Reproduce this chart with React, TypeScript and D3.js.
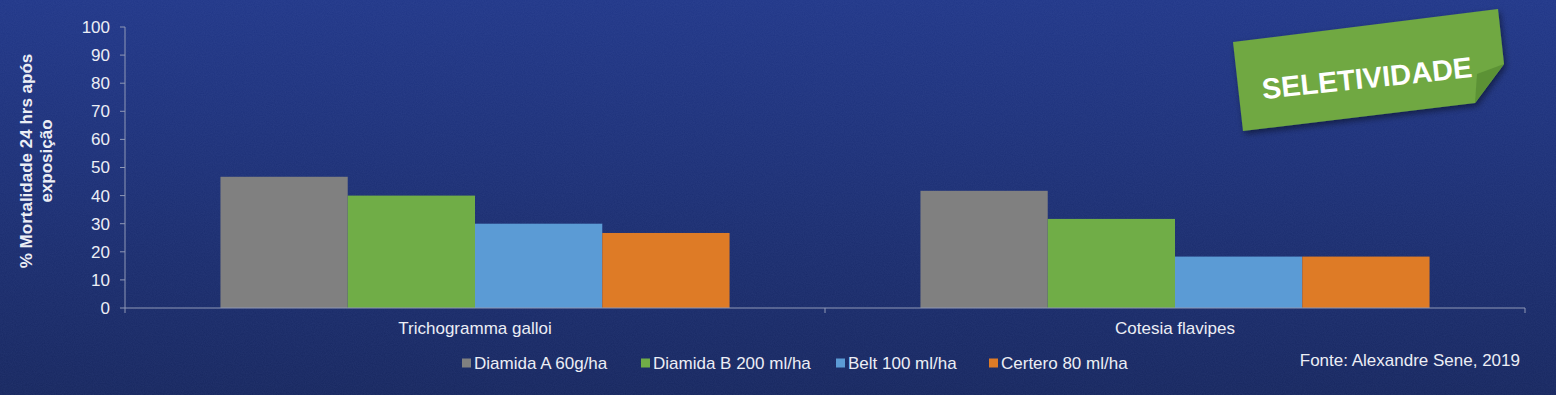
import * as d3 from "d3";

const W = 1556;
const H = 395;
const margin = { top: 27, right: 31, bottom: 87, left: 125 };

const categories = ["Trichogramma galloi", "Cotesia flavipes"];
const seriesNames = [
  "Diamida A 60g/ha",
  "Diamida B 200 ml/ha",
  "Belt 100 ml/ha",
  "Certero 80 ml/ha",
];
const seriesColors = ["#808080", "#70ad47", "#5b9bd5", "#de7b26"];
const valuesTrichogramma = [46.7, 40, 30, 26.7];
const valuesCotesia = [41.7, 31.7, 18.3, 18.3];
const yTicks = [0, 10, 20, 30, 40, 50, 60, 70, 80, 90, 100];
const legendX = [462, 641, 836, 989];

const values = [valuesTrichogramma, valuesCotesia];

const App = () => {
  const iw = W - margin.left - margin.right;
  const ih = H - margin.top - margin.bottom;

  const x0 = d3.scaleBand().domain(categories).range([0, iw]).paddingInner(0).paddingOuter(0);
  // Excel gap width 150%: bars take 4/(4+1.5) of each band
  const groupW = (x0.bandwidth() * 4) / 5.5;
  const x1 = d3
    .scaleBand()
    .domain(seriesNames)
    .range([(x0.bandwidth() - groupW) / 2, (x0.bandwidth() + groupW) / 2]);
  const y = d3.scaleLinear().domain([0, 100]).range([ih, 0]);

  const axisColor = "#8f98b6";
  const textColor = "#eceef5";
  const font = "'Liberation Sans', Arial, sans-serif";

  return (
    <svg width={W} height={H} style={{ position: "absolute", left: 0, top: 0 }} fontFamily={font}>
      <defs>
        <linearGradient id="bg" x1="0" y1="0" x2="0" y2="1">
          <stop offset="0" stopColor="#213788" />
          <stop offset="1" stopColor="#17275f" />
        </linearGradient>
        <filter id="noise" x="0" y="0" width="100%" height="100%">
          <feTurbulence type="fractalNoise" baseFrequency="0.9" numOctaves="2" seed="3" />
          <feColorMatrix type="matrix" values="0 0 0 0 0.35  0 0 0 0 0.45  0 0 0 0 0.9  0 0 0 0.08 0" />
        </filter>
        <filter id="shadow" x="-10%" y="-20%" width="130%" height="150%">
          <feDropShadow dx="2" dy="3" stdDeviation="3" floodColor="#000" floodOpacity="0.45" />
        </filter>
      </defs>
      <rect width={W} height={H} fill="url(#bg)" />
      <rect width={W} height={H} filter="url(#noise)" />

      <g transform={`translate(${margin.left},${margin.top})`}>
        {categories.map((c, ci) => (
          <g key={c} transform={`translate(${x0(c)},0)`}>
            {seriesNames.map((s, si) => (
              <rect
                key={s}
                x={x1(s)}
                y={y(values[ci][si])}
                width={x1.bandwidth()}
                height={ih - y(values[ci][si])}
                fill={seriesColors[si]}
              />
            ))}
            <text
              x={x0.bandwidth() / 2}
              y={ih + 20}
              dy="0.35em"
              textAnchor="middle"
              fontSize={17}
              fill={textColor}
            >
              {c}
            </text>
          </g>
        ))}

        {/* y axis */}
        <line x1={0} x2={0} y1={0} y2={ih} stroke={axisColor} strokeWidth={1} />
        {yTicks.map((t) => (
          <g key={t} transform={`translate(0,${y(t)})`}>
            <line x1={-5} x2={0} stroke={axisColor} />
            <text x={-15} dy="0.35em" textAnchor="end" fontSize={17} fill={textColor}>
              {t}
            </text>
          </g>
        ))}

        {/* x axis */}
        <line x1={0} x2={iw} y1={ih} y2={ih} stroke={axisColor} />
        {[0, x0.bandwidth(), iw].map((v, i) => (
          <line key={i} x1={v} x2={v} y1={ih} y2={ih + 5} stroke={axisColor} />
        ))}
      </g>

      {/* y title */}
      <text
        transform={`translate(32,${margin.top + 134}) rotate(-90)`}
        textAnchor="middle"
        fontSize={17}
        fontWeight="bold"
        fill={textColor}
      >
        <tspan x={0} dy={0}>% Mortalidade 24 hrs após</tspan>
        <tspan x={0} dy={20}>exposição</tspan>
      </text>

      {/* legend */}
      {seriesNames.map((s, i) => (
        <g key={s} transform={`translate(${legendX[i]},363)`}>
          <rect x={0} y={-4.5} width={9} height={9} fill={seriesColors[i]} />
          <text x={12} dy="0.35em" fontSize={17} fill={textColor}>
            {s}
          </text>
        </g>
      ))}

      <text x={1520} y={360} dy="0.35em" textAnchor="end" fontSize={17} fill={textColor}>
        Fonte: Alexandre Sene, 2019
      </text>

      {/* banner */}
      <g filter="url(#shadow)">
        <polygon points="1233,42 1498,9 1504,64 1475,103 1243,131" fill="#6fa842" />
        <polygon points="1477,74 1504,64 1475,103" fill="#5c9236" />
      </g>
      <text
        transform="translate(1367,78) rotate(-6)"
        textAnchor="middle"
        dy="0.35em"
        fontSize={29}
        fontWeight="bold"
        fill="#ffffff"
      >
        SELETIVIDADE
      </text>
    </svg>
  );
};

export default App;
